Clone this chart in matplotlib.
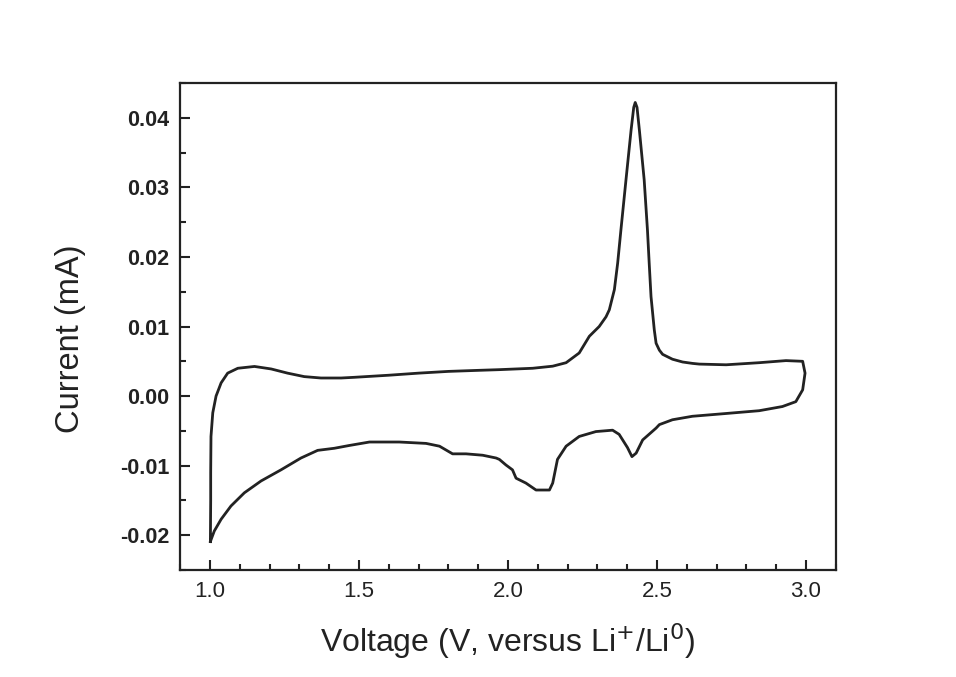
import matplotlib
matplotlib.use("Agg")
import matplotlib.pyplot as plt
from matplotlib.ticker import MultipleLocator, FormatStrFormatter

# Anodic sweep (1.0 V -> 3.0 V)
v_anodic = [1.001, 1.002, 1.002, 1.003, 1.009, 1.020, 1.037, 1.059, 1.093, 1.149,
            1.205, 1.260, 1.316, 1.372, 1.440, 1.484, 1.600, 1.700, 1.800, 1.900,
            1.971, 2.083, 2.150, 2.195, 2.239, 2.273, 2.306, 2.329, 2.340, 2.357,
            2.368, 2.379, 2.396, 2.413, 2.422, 2.427, 2.433, 2.441, 2.457, 2.468,
            2.474, 2.480, 2.491, 2.497, 2.508, 2.519, 2.552, 2.586, 2.619, 2.642,
            2.732, 2.843, 2.933, 2.989, 2.997]
i_anodic = [-0.0209, -0.0150, -0.0110, -0.0058, -0.0024, 0.0000, 0.0019, 0.0033, 0.0040, 0.00426,
            0.0039, 0.0033, 0.0028, 0.0026, 0.0026, 0.0027, 0.0030, 0.0033, 0.00355, 0.0037,
            0.0038, 0.0040, 0.0043, 0.0048, 0.0062, 0.0086, 0.0100, 0.0114, 0.0124, 0.0153,
            0.0191, 0.0239, 0.0311, 0.0382, 0.0415, 0.0422, 0.0415, 0.0382, 0.0311, 0.0239,
            0.0190, 0.0143, 0.0095, 0.0076, 0.0066, 0.0060, 0.0053, 0.0049, 0.0047, 0.0046,
            0.0045, 0.0048, 0.0051, 0.0050, 0.0033]

# Cathodic sweep (3.0 V -> 1.0 V)
v_cathodic = [2.997, 2.989, 2.966, 2.921, 2.843, 2.732, 2.619, 2.552, 2.508, 2.497,
              2.452, 2.430, 2.416, 2.401, 2.373, 2.351, 2.295, 2.239, 2.195, 2.166,
              2.150, 2.139, 2.094, 2.060, 2.027, 2.015, 1.993, 1.971, 1.960, 1.915,
              1.859, 1.814, 1.790, 1.770, 1.725, 1.635, 1.535, 1.467, 1.417, 1.361,
              1.305, 1.238, 1.171, 1.115, 1.070, 1.037, 1.014, 1.001]
i_cathodic = [0.0033, 0.0009, -0.0008, -0.0015, -0.0021, -0.0025, -0.0029, -0.0034, -0.0041, -0.0046,
              -0.0063, -0.0082, -0.0087, -0.0074, -0.0055, -0.0049, -0.0051, -0.0058, -0.0072, -0.0091,
              -0.0125, -0.0135, -0.0135, -0.0125, -0.0118, -0.0106, -0.0099, -0.0091, -0.0089, -0.0085,
              -0.0083, -0.0083, -0.0077, -0.0072, -0.0068, -0.0066, -0.0066, -0.0071, -0.0075, -0.0078,
              -0.0089, -0.0106, -0.0122, -0.0139, -0.0158, -0.0177, -0.0194, -0.0209]

x_ticks = [1.0, 1.5, 2.0, 2.5, 3.0]
y_ticks = [-0.02, -0.01, 0.00, 0.01, 0.02, 0.03, 0.04]

plt.rcParams['font.family'] = ['Liberation Sans', 'DejaVu Sans']

fig = plt.figure(figsize=(9.56, 6.77), dpi=100)
ax = fig.add_axes([0.1886, 0.158, 0.6856, 0.7194])

line_color = '#222222'
ax.plot(v_anodic + v_cathodic, i_anodic + i_cathodic, color=line_color, lw=2.0,
        solid_joinstyle='round')

ax.set_xlim(0.9, 3.1)
ax.set_ylim(-0.025, 0.045)
ax.set_xticks(x_ticks)
ax.set_yticks(y_ticks)
ax.xaxis.set_minor_locator(MultipleLocator(0.1))
ax.yaxis.set_minor_locator(MultipleLocator(0.005))
ax.xaxis.set_major_formatter(FormatStrFormatter('%.1f'))
ax.yaxis.set_major_formatter(FormatStrFormatter('%.2f'))

ax.tick_params(which='both', direction='in', top=False, right=False, color=line_color)
ax.tick_params(which='major', length=7.5, width=1.5)
ax.tick_params(which='minor', length=4.3, width=1.5)
ax.tick_params(axis='x', which='major', labelsize=16, pad=8, labelcolor=line_color)
ax.tick_params(axis='y', which='major', labelsize=15.5, pad=8, labelcolor=line_color)
for lab in ax.get_yticklabels():
    lab.set_fontweight('bold')

for s in ax.spines.values():
    s.set_linewidth(1.6)
    s.set_color(line_color)

ax.set_xlabel('Voltage (V, versus Li$^{+}$/Li$^{0}$)', fontsize=23, color=line_color)
ax.set_ylabel('Current (mA)', fontsize=23.5, color=line_color)
ax.xaxis.set_label_coords(0.5, -0.106)
ax.yaxis.set_label_coords(-0.168, 0.474)
ax.yaxis.label.set_verticalalignment('center')

fig.savefig('out.png', dpi=100, facecolor='white')
